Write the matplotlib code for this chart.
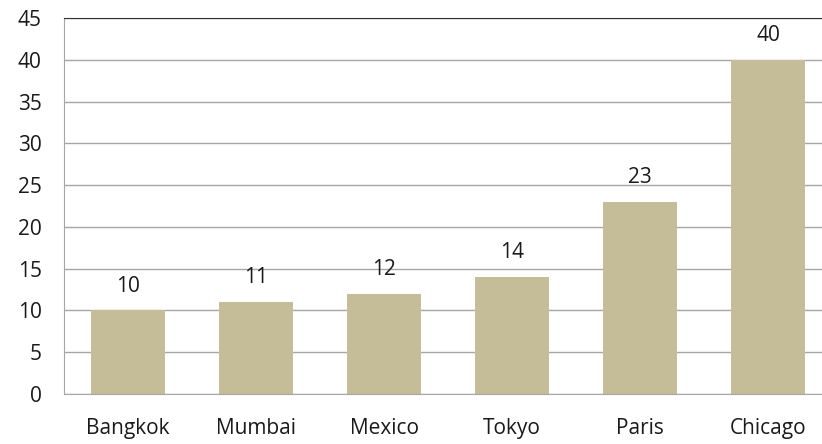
import matplotlib.pyplot as plt

cities = ['Bangkok', 'Mumbai', 'Mexico', 'Tokyo', 'Paris', 'Chicago']
values = [10, 11, 12, 14, 23, 40]
yticks = [0, 5, 10, 15, 20, 25, 30, 35, 40, 45]

plt.rcParams['font.family'] = ['Open Sans', 'DejaVu Sans']

fig = plt.figure(figsize=(8.22, 4.44), dpi=100)
# axes run past the right edge, as in the original
ax = fig.add_axes([64 / 822, (444 - 394) / 444, 768 / 822, 376 / 444])

x = range(len(cities))
ax.bar(x, values, width=0.58, color='#C4BD97', zorder=2)
for xi, v in zip(x, values):
    ax.annotate(str(v), (xi, v), xytext=(0, 10), textcoords='offset points',
                ha='center', va='bottom', fontsize=15, color='#1a1a1a')

ax.set_xlim(-0.5, len(cities) - 0.5)
ax.set_ylim(0, 45)
ax.set_yticks(yticks)
ax.set_xticks(list(x))
ax.set_xticklabels(cities)
ax.tick_params(axis='both', length=0, labelsize=15, colors='#1a1a1a')
ax.tick_params(axis='x', pad=17)
ax.tick_params(axis='y', pad=16)
ax.yaxis.grid(True, color='#A6A6A6', linewidth=1, zorder=0)
ax.set_axisbelow(True)

ax.spines['top'].set_color('#333333')
ax.spines['left'].set_color('#A6A6A6')
ax.spines['bottom'].set_color('#A6A6A6')
ax.spines['right'].set_visible(False)

fig.savefig('out.png', dpi=100)
